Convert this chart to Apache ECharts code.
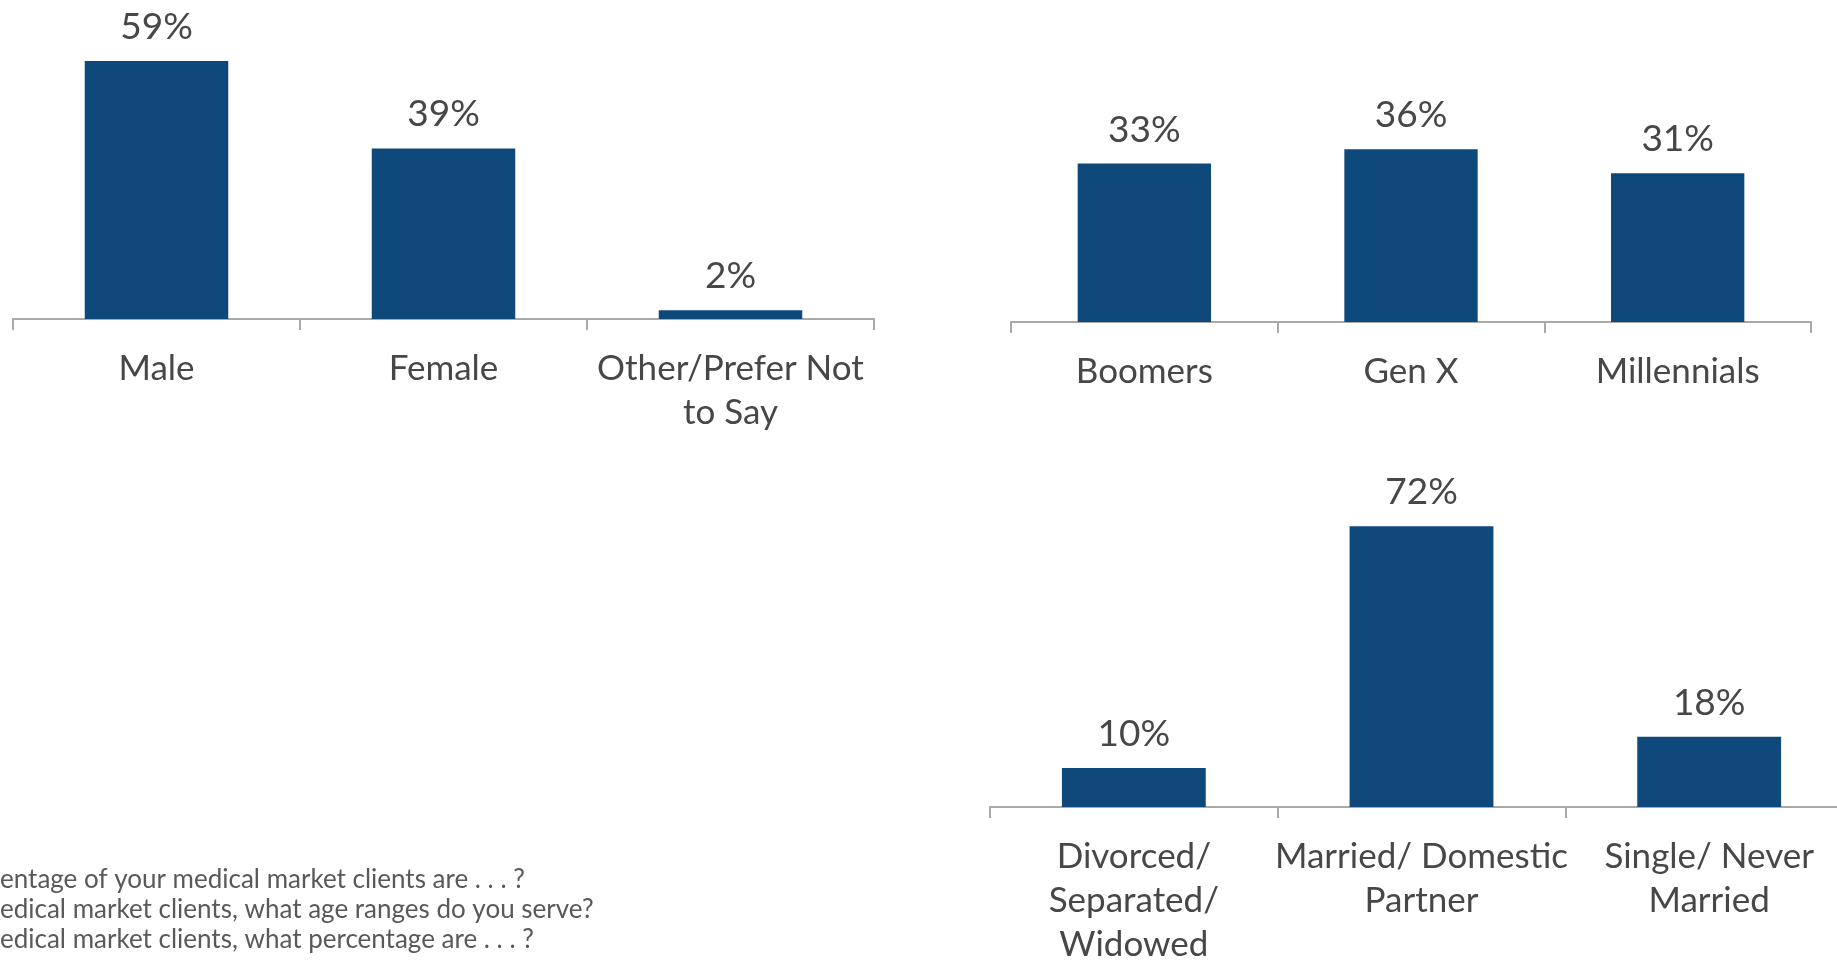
<!DOCTYPE html>
<html>
<head>
<meta charset="utf-8">
<script src="https://cdn.jsdelivr.net/npm/echarts@6/dist/echarts.min.js"></script>
<style>
  html, body { margin: 0; padding: 0; background: #ffffff; }
  #chart { width: 1837px; height: 960px; }
</style>
</head>
<body>
<div id="chart"></div>
<script>
// Client profile: gender, generation and marital status (percent of clients)
const genderCategories = ['Male', 'Female', 'Other/Prefer Not\nto Say'];
const genderValues = [59, 39, 2];

const generationCategories = ['Boomers', 'Gen X', 'Millennials'];
const generationValues = [33, 36, 31];

const maritalCategories = ['Divorced/\nSeparated/\nWidowed', 'Married/ Domestic\nPartner', 'Single/ Never\nMarried'];
const maritalValues = [10, 72, 18];

const footnoteLines = [
  'entage of your medical market clients are . . . ?',
  'edical market clients, what age ranges do you serve?',
  'edical market clients, what percentage are . . . ?'
];

const FONT = 'Lato';
const TEXT = '#474747';
const BAR = '#0f497b';
const AXIS = '#a9a9a9';

function categoryAxis(gridIndex, data) {
  return {
    type: 'category',
    gridIndex: gridIndex,
    data: data,
    boundaryGap: true,
    axisLine: { show: true, lineStyle: { color: AXIS, width: 2 } },
    axisTick: { show: true, alignWithLabel: false, length: 11, lineStyle: { color: AXIS, width: 2 } },
    axisLabel: {
      interval: 0,
      margin: 28,
      color: TEXT,
      fontFamily: FONT,
      fontSize: 35,
      lineHeight: 44,
      align: 'center'
    },
    splitLine: { show: false }
  };
}

function valueAxis(gridIndex, max) {
  return {
    type: 'value',
    gridIndex: gridIndex,
    min: 0,
    max: max,
    show: false,
    splitLine: { show: false }
  };
}

function barSeries(index, values) {
  return {
    type: 'bar',
    xAxisIndex: index,
    yAxisIndex: index,
    data: values,
    barWidth: '50%',
    itemStyle: { color: BAR },
    label: {
      show: true,
      position: 'top',
      distance: 14,
      formatter: '{c}%',
      color: TEXT,
      fontFamily: FONT,
      fontSize: 37,
      lineHeight: 40
    },
    silent: true,
    animation: false
  };
}

const chart = echarts.init(document.getElementById('chart'), null, { renderer: 'canvas' });

chart.setOption({
  backgroundColor: '#ffffff',
  animation: false,
  textStyle: { fontFamily: FONT },
  grid: [
    { left: 13, top: 13, width: 861, height: 306, containLabel: false, outerBoundsMode: 'none' },
    { left: 1011, top: 130, width: 800, height: 192, containLabel: false, outerBoundsMode: 'none' },
    { left: 990, top: 495, width: 863, height: 312, containLabel: false, outerBoundsMode: 'none' }
  ],
  xAxis: [
    categoryAxis(0, genderCategories),
    categoryAxis(1, generationCategories),
    categoryAxis(2, maritalCategories)
  ],
  yAxis: [
    valueAxis(0, 70),
    valueAxis(1, 40),
    valueAxis(2, 80)
  ],
  series: [
    barSeries(0, genderValues),
    barSeries(1, generationValues),
    barSeries(2, maritalValues)
  ],
  graphic: footnoteLines.map(function (line, i) {
    return {
      type: 'text',
      x: 0,
      y: 880 + i * 30,
      style: {
        text: line,
        fill: '#595959',
        font: '26px ' + FONT,
        verticalAlign: 'middle',
        align: 'left'
      }
    };
  })
});
</script>
</body>
</html>
